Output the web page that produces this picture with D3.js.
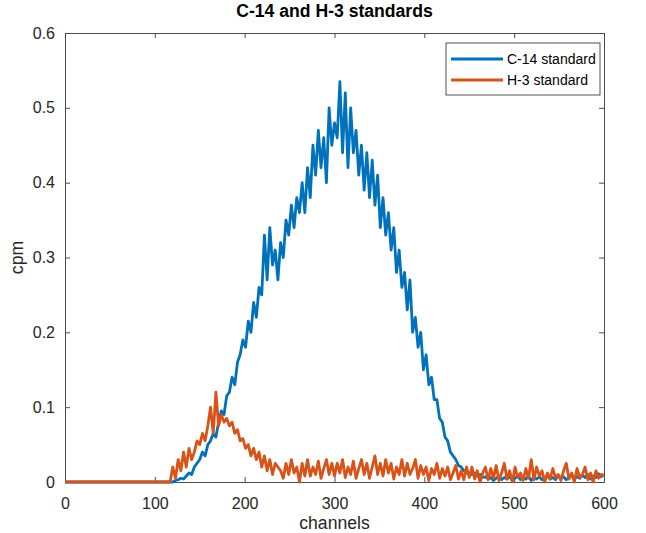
<!DOCTYPE html>
<html>
<head>
<meta charset="utf-8">
<script src="https://cdn.jsdelivr.net/npm/d3@7"></script>
<style>
    body { margin: 0; background: #fff; }
    .axis text { font-family: "Liberation Sans", Arial, sans-serif; font-size: 16px; fill: #262626; }
    .axis path, .axis line { stroke: #4d4d4d; }
    .spectrum-line { fill: none; stroke-width: 2.8; stroke-linejoin: round; }
</style>
</head>
<body>
<div id="chart-area"></div>
<script>
// channel grid of the spectrum (every 3rd channel)
var channels = d3.range(0, 601, 3);

// C-14 standard, cpm per sampled channel
var c14Values = [
    0, 0, 0, 0, 0, 0, 0, 0, 0, 0,
    0, 0, 0, 0, 0, 0, 0, 0, 0, 0,
    0, 0, 0, 0, 0, 0, 0, 0, 0, 0,
    0, 0, 0, 0, 0, 0, 0, 0, 0, 0,
    0, .002, .003, .005, .004, .008, .012, .01, .02, .025,
    .03, .04, .035, .05, .055, .065, .06, .08, .095, .09,
    .115, .12, .14, .13, .16, .17, .19, .18, .215, .2,
    .24, .22, .26, .25, .33, .27, .34, .29, .31, .27,
    .32, .3, .35, .33, .37, .34, .38, .36, .4, .36,
    .42, .38, .45, .41, .47, .42, .46, .4, .5, .45,
    .48, .46, .535, .44, .52, .42, .5, .44, .47, .41,
    .45, .39, .44, .38, .43, .37, .41, .34, .38, .33,
    .36, .31, .34, .28, .31, .26, .28, .23, .27, .2,
    .22, .18, .2, .15, .17, .13, .14, .11, .11, .085,
    .08, .06, .055, .04, .035, .03, .022, .02, .015, .012,
    .012, .01, .012, .008, .01, .006, .007, .004, .006, .002,
    .005, .008, .003, .006, .004, .007, .002, .005, .009, .003,
    .006, .004, .008, .002, .006, .004, .007, .003, .006, .008,
    .004, .006, .003, .009, .005, .007, .003, .006, .01, .004,
    .007, .005, .009, .006, .01, .004, .008, .006, .011, .007,
    .01
];

// H-3 standard, cpm per sampled channel
var h3Values = [
    0, 0, 0, 0, 0, 0, 0, 0, 0, 0,
    0, 0, 0, 0, 0, 0, 0, 0, 0, 0,
    0, 0, 0, 0, 0, 0, 0, 0, 0, 0,
    0, 0, 0, 0, 0, 0, 0, 0, 0, 0,
    .02, .005, .03, .015, .04, .02, .045, .03, .04, .055,
    .05, .065, .055, .075, .1, .065, .12, .075, .09, .08,
    .085, .075, .08, .065, .07, .055, .058, .045, .05, .035,
    .045, .03, .04, .02, .035, .015, .03, .01, .025, .02,
    .015, .005, .025, .01, .03, .012, .02, 0, .025, .008,
    .03, .008, .02, .01, .028, .005, .018, .03, .01, .025,
    .008, .025, .012, .03, .006, .02, .01, .028, .005, .018,
    .03, .01, .025, .005, .02, .035, .01, .025, .008, .03,
    .012, .025, .004, .02, .01, .03, .008, .025, .01, .018,
    .03, .005, .022, .01, .02, .002, .018, .01, .025, .005,
    .018, .008, .02, .003, .012, .022, .004, .015, .003, .02,
    .006, .02, .004, .015, 0, .012, .02, .003, .018, .005,
    .022, .002, .012, .025, .004, .015, 0, .02, .006, .012,
    .002, .018, .005, .03, .003, .02, .008, .015, 0, .012,
    .004, .018, .006, .01, .002, .015, .025, .004, .012, 0,
    .018, .006, .01, .02, .003, .012, 0, .015, .005, .01,
    .008
];

var seriesNames = ["C-14 standard", "H-3 standard"];
var seriesColors = ["#0072BD", "#D95319"];

var xTicks = [0, 100, 200, 300, 400, 500, 600];
var yTicks = [0, 0.1, 0.2, 0.3, 0.4, 0.5, 0.6];
var yTickLabels = ["0", "0.1", "0.2", "0.3", "0.4", "0.5", "0.6"];


/*
 * SpectrumChart - Object constructor function
 */
SpectrumChart = function(_parentElement) {
    this.parentElement = _parentElement;
    this.initVis();
};

SpectrumChart.prototype.initVis = function() {
    var vis = this;

    vis.margin = { top: 33, right: 42, bottom: 51, left: 65 };
    vis.width = 646 - vis.margin.left - vis.margin.right;
    vis.height = 533 - vis.margin.top - vis.margin.bottom;

    vis.svg = d3.select("#" + vis.parentElement).append("svg")
        .attr("width", 646)
        .attr("height", 533)
        .append("g")
        .attr("transform", "translate(" + vis.margin.left + "," + vis.margin.top + ")");

    vis.x = d3.scaleLinear().domain([0, 600]).range([0, vis.width]);
    vis.y = d3.scaleLinear().domain([0, 0.6]).range([vis.height, 0]);

    // MATLAB style: ticks point inward on all four sides
    vis.svg.append("g")
        .attr("class", "axis x-axis")
        .attr("transform", "translate(0," + vis.height + ")")
        .call(d3.axisBottom(vis.x).tickValues(xTicks).tickSizeInner(-5).tickSizeOuter(0).tickPadding(16));

    vis.svg.append("g")
        .attr("class", "axis")
        .call(d3.axisTop(vis.x).tickValues(xTicks).tickSizeInner(-5).tickSizeOuter(0).tickFormat(""));

    vis.svg.append("g")
        .attr("class", "axis y-axis")
        .call(d3.axisLeft(vis.y).tickValues(yTicks).tickSizeInner(-5).tickSizeOuter(0).tickPadding(10)
            .tickFormat(function(d, i) { return yTickLabels[i]; }));

    vis.svg.append("g")
        .attr("class", "axis")
        .attr("transform", "translate(" + vis.width + ",0)")
        .call(d3.axisRight(vis.y).tickValues(yTicks).tickSizeInner(-5).tickSizeOuter(0).tickFormat(""));

    vis.svg.selectAll(".axis .domain").attr("stroke", "#4d4d4d");

    // title and axis labels
    vis.svg.append("text")
        .attr("x", vis.width / 2)
        .attr("y", -16)
        .attr("text-anchor", "middle")
        .style("font-family", "Liberation Sans, Arial, sans-serif")
        .style("font-size", "17.6px")
        .style("font-weight", "bold")
        .style("fill", "#000")
        .text("C-14 and H-3 standards");

    vis.svg.append("text")
        .attr("x", vis.width / 2)
        .attr("y", vis.height + 47)
        .attr("text-anchor", "middle")
        .style("font-family", "Liberation Sans, Arial, sans-serif")
        .style("font-size", "17.6px")
        .style("fill", "#262626")
        .text("channels");

    vis.svg.append("text")
        .attr("transform", "translate(-42," + (vis.height / 2) + ") rotate(-90)")
        .attr("text-anchor", "middle")
        .style("font-family", "Liberation Sans, Arial, sans-serif")
        .style("font-size", "17.6px")
        .style("fill", "#262626")
        .text("cpm");

    vis.lineGroup = vis.svg.append("g");
    vis.legendGroup = vis.svg.append("g");

    vis.wrangleData();
};

SpectrumChart.prototype.wrangleData = function() {
    var vis = this;

    vis.displayData = [c14Values, h3Values].map(function(values, k) {
        return {
            name: seriesNames[k],
            color: seriesColors[k],
            points: channels.map(function(c, i) { return { channel: c, cpm: values[i] }; })
        };
    });

    vis.updateVis();
};

SpectrumChart.prototype.updateVis = function() {
    var vis = this;

    vis.line = d3.line()
        .x(function(d) { return vis.x(d.channel); })
        .y(function(d) { return vis.y(d.cpm); });

    vis.lineGroup.selectAll("path")
        .data(vis.displayData)
        .enter()
        .append("path")
        .attr("class", "spectrum-line")
        .attr("stroke", function(d) { return d.color; })
        .attr("d", function(d) { return vis.line(d.points); });

    // legend box in the upper right corner
    var lw = 154, lh = 52;
    vis.legendGroup.attr("transform", "translate(" + (vis.width - lw - 4) + ",10)");

    vis.legendGroup.append("rect")
        .attr("width", lw)
        .attr("height", lh)
        .attr("fill", "#fff")
        .attr("stroke", "#262626")
        .attr("stroke-width", 0.8);

    var items = vis.legendGroup.selectAll(".legend-item")
        .data(vis.displayData)
        .enter()
        .append("g")
        .attr("class", "legend-item")
        .attr("transform", function(d, i) { return "translate(0," + (16 + i * 21) + ")"; });

    items.append("line")
        .attr("x1", 5).attr("x2", 57)
        .attr("stroke", function(d) { return d.color; })
        .attr("stroke-width", 2.8);

    items.append("text")
        .attr("x", 61)
        .attr("dy", "0.35em")
        .style("font-family", "Liberation Sans, Arial, sans-serif")
        .style("font-size", "14px")
        .style("fill", "#000")
        .text(function(d) { return d.name; });
};

var chart = new SpectrumChart("chart-area");
</script>
</body>
</html>
